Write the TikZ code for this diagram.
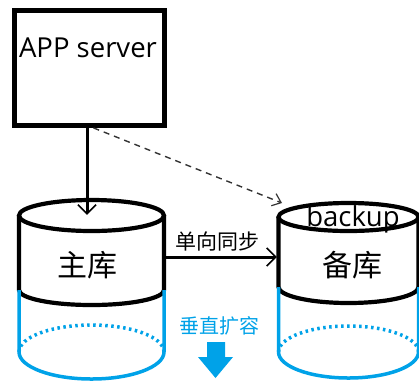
\documentclass[tikz,border=0pt]{standalone}
\usepackage{fontspec}
\setmainfont{Open Sans}
\newfontfamily\cjk{Noto Sans CJK SC}
\usetikzlibrary{arrows.meta}
\definecolor{growblue}{RGB}{0,162,232}
\tikzset{
  x=1pt, y=-1pt,
  frame/.style={draw, line width=4.8pt, inner sep=0pt},
  body/.style={draw=none, inner sep=0pt},
  dbline/.style={line width=4.2pt},
  growline/.style={draw=growblue, line width=3.5pt},
  growdots/.style={draw=growblue, line width=3.5pt, dash pattern=on 2.5pt off 3.5pt},
  solidarrow/.style={line width=3pt, -{Straight Barb[length=9pt,width=18pt,line width=1.6pt]}},
  dasharrow/.style={line width=1.4pt, draw=black!80, dash pattern=on 6pt off 5pt,
    -{Straight Barb[length=8pt,width=13pt,line width=1.2pt]}},
  cjklabel/.style={font=\cjk\fontsize{30}{30}\selectfont, inner sep=0pt},
  latinlabel/.style={font=\fontsize{27.5}{27.5}\selectfont, inner sep=0pt},
}
\begin{document}
\begin{tikzpicture}
\useasboundingbox (0,0) rectangle (419,384);

% application server
\node[frame, minimum width=150pt, minimum height=115pt] (app) at (89.5,68) {};
\node[latinlabel] (apptext) at (88,48) {APP server};

% master database: black body on top, blue growth below
\draw[dbline] (91.5,215.5) ellipse [x radius=72.5, y radius=15.5];
\draw[dbline] (19,215.5) -- (19,290) arc[start angle=180, end angle=0, x radius=72.5, y radius=15] -- (164,215.5);
\draw[growline] (19,290) -- (19,352) arc[start angle=180, end angle=0, x radius=72.5, y radius=27] -- (164,290);
\draw[growdots] (19,352) arc[start angle=180, end angle=360, x radius=72.5, y radius=27];
\node[body, minimum width=145pt, minimum height=84pt] (master) at (91.5,257) {};
\node[cjklabel] (mastertext) at (87,265) {主库};

% backup database
\draw[dbline] (348.5,217) ellipse [x radius=70, y radius=14];
\draw[dbline] (278.5,217) -- (278.5,287) arc[start angle=180, end angle=0, x radius=70, y radius=16] -- (418.5,217);
\draw[growline] (278.5,287) -- (278.5,352) arc[start angle=180, end angle=0, x radius=70, y radius=26] -- (418.5,287);
\draw[growdots] (278.5,352) arc[start angle=180, end angle=360, x radius=70, y radius=26];
\node[body, minimum width=140pt, minimum height=84pt] (slave) at (348.5,257) {};
\node[latinlabel] (backuptext) at (353,219) {backup};
\node[cjklabel] (slavetext) at (352,265) {备库};
\coordinate (slavetop) at (282,203);

% connectors
\draw[solidarrow] ([xshift=-2.5pt]app.south) -- ([xshift=-2.5pt]app.south |- master.north);
\draw[solidarrow] (master.east) -- ([xshift=-1.5pt]slave.west);
\draw[dasharrow] ([xshift=4pt]app.south) -- (slavetop);
\node[font=\cjk\fontsize{21}{21}\selectfont, inner sep=0pt] (synctext) at (217,242) {单向同步};

% vertical scaling hint
\node[font=\cjk\fontsize{20}{20}\selectfont, text=growblue, inner sep=0pt] (growtext) at (219,326) {垂直扩容};
\fill[growblue] (207,342) -- (225,342) -- (225,357) -- (233,357) -- (215.5,378)
  -- (198,357) -- (207,357) -- cycle;
\end{tikzpicture}
\end{document}
